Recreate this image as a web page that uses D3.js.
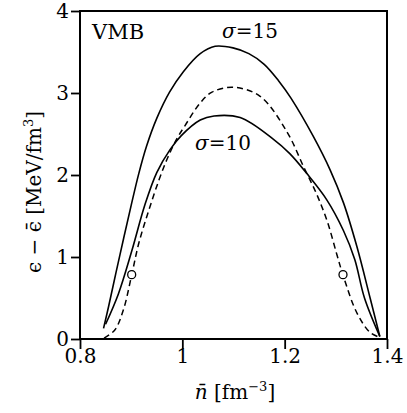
<!DOCTYPE html>
<html>
<head>
<meta charset="utf-8">
<script src="https://cdn.jsdelivr.net/npm/d3@7"></script>
<style>
  html, body { margin: 0; padding: 0; background: #fff; }
  svg text { font-family: "DejaVu Serif", "Liberation Serif", serif; fill: #000; }
</style>
</head>
<body>
<svg id="chart" width="407" height="413"></svg>
<script>
// Energy difference vs. mean density, VMB model
const xTicks = [0.8, 1, 1.2, 1.4];
const yTicks = [0, 1, 2, 3, 4];

// sigma = 15 (solid, upper)
const sigma15 = [
  [0.846, 0.13], [0.856, 0.40], [0.870, 0.80], [0.885, 1.22], [0.900, 1.63],
  [0.915, 2.02], [0.930, 2.35], [0.950, 2.69], [0.975, 3.01], [1.002, 3.26],
  [1.035, 3.48], [1.064, 3.57], [1.099, 3.55], [1.130, 3.48], [1.160, 3.35],
  [1.188, 3.15], [1.212, 2.94], [1.256, 2.47], [1.289, 2.06], [1.315, 1.66],
  [1.341, 1.13], [1.367, 0.50], [1.386, 0.03]
];

// sigma = 10 (solid, lower)
const sigma10 = [
  [0.850, 0.18], [0.875, 0.55], [0.901, 1.07], [0.927, 1.64], [0.950, 2.03],
  [0.976, 2.31], [0.998, 2.48], [1.035, 2.67], [1.062, 2.72], [1.113, 2.70],
  [1.177, 2.44], [1.210, 2.26], [1.243, 2.02], [1.282, 1.70], [1.315, 1.32],
  [1.337, 0.97], [1.356, 0.50], [1.386, 0.03]
];

// dashed reference curve
const dashed = [
  [0.847, 0.01], [0.868, 0.11], [0.885, 0.36], [0.901, 0.78], [0.915, 1.17],
  [0.935, 1.58], [0.955, 1.95], [0.972, 2.22], [0.990, 2.45], [1.005, 2.60],
  [1.035, 2.88], [1.058, 3.01], [1.099, 3.07], [1.152, 2.96], [1.205, 2.52],
  [1.237, 2.10], [1.263, 1.76], [1.284, 1.42], [1.302, 1.03], [1.314, 0.78],
  [1.341, 0.32], [1.367, 0.08], [1.386, 0.02]
];

// open circles on the dashed curve
const circles = [[0.901, 0.785], [1.314, 0.785]];

const svg = d3.select("#chart");
const mLeft = 80, mRight = 387, mTop = 11, mBottom = 339;

const x = d3.scaleLinear().domain([0.8, 1.4]).range([mLeft, mRight]);
const y = d3.scaleLinear().domain([0, 4]).range([mBottom, mTop]);

const line = d3.line().x(d => x(d[0])).y(d => y(d[1])).curve(d3.curveCatmullRom.alpha(0.5));

// curves
svg.append("path").datum(sigma15).attr("d", line)
  .attr("fill", "none").attr("stroke", "#000").attr("stroke-width", 1.6);
svg.append("path").datum(sigma10).attr("d", line)
  .attr("fill", "none").attr("stroke", "#000").attr("stroke-width", 1.6);
svg.append("path").datum(dashed).attr("d", line)
  .attr("fill", "none").attr("stroke", "#000").attr("stroke-width", 1.5)
  .attr("stroke-dasharray", "6,4");

svg.selectAll("circle.pt").data(circles).enter().append("circle")
  .attr("class", "pt")
  .attr("cx", d => x(d[0])).attr("cy", d => y(d[1])).attr("r", 4)
  .attr("fill", "#fff").attr("stroke", "#000").attr("stroke-width", 1.3);

// axes
const yAxis = d3.axisLeft(y).tickValues(yTicks).tickSize(9).tickPadding(2)
  .tickFormat(d3.format("d"));
const gy = svg.append("g").attr("transform", `translate(${mLeft},0)`).call(yAxis);
gy.select(".domain").remove();
gy.selectAll("line").attr("stroke", "#000").attr("stroke-width", 1.8);
gy.selectAll("text").style("font-size", "20px");

const xAxis = d3.axisBottom(x).tickValues(xTicks).tickSize(10).tickPadding(0)
  .tickFormat(d => d3.format("")(d));
const gx = svg.append("g").attr("transform", `translate(0,${mBottom})`).call(xAxis);
gx.select(".domain").remove();
gx.selectAll("line").attr("stroke", "#000").attr("stroke-width", 1.8);
gx.selectAll("text").style("font-size", "20px");

// frame
svg.append("rect").attr("x", mLeft).attr("y", mTop)
  .attr("width", mRight - mLeft).attr("height", mBottom - mTop)
  .attr("fill", "none").attr("stroke", "#000").attr("stroke-width", 2);

// annotations
svg.append("text").attr("x", 92).attr("y", 39).style("font-size", "21px").text("VMB");

const s15 = svg.append("text").attr("x", 222).attr("y", 38).style("font-size", "20px");
s15.append("tspan").style("font-style", "italic").text("σ");
s15.append("tspan").text("=15");

const s10 = svg.append("text").attr("x", 195).attr("y", 150).style("font-size", "20px");
s10.append("tspan").style("font-style", "italic").text("σ");
s10.append("tspan").text("=10");

// axis titles
const xl = svg.append("text").attr("x", 235).attr("y", 399)
  .attr("text-anchor", "middle").style("font-size", "20px");
xl.append("tspan").style("font-style", "italic").text("n̄");
xl.append("tspan").text(" [fm");
xl.append("tspan").attr("dy", -8).style("font-size", "13px").text("−3");
xl.append("tspan").attr("dy", 8).text("]");

const yl = svg.append("text")
  .attr("transform", "translate(41,192) rotate(-90)")
  .attr("text-anchor", "middle").style("font-size", "20px");
yl.append("tspan").text("ϵ − ϵ̄ [MeV/fm");
yl.append("tspan").attr("dy", -8).style("font-size", "13px").text("3");
yl.append("tspan").attr("dy", 8).text("]");
</script>
</body>
</html>
